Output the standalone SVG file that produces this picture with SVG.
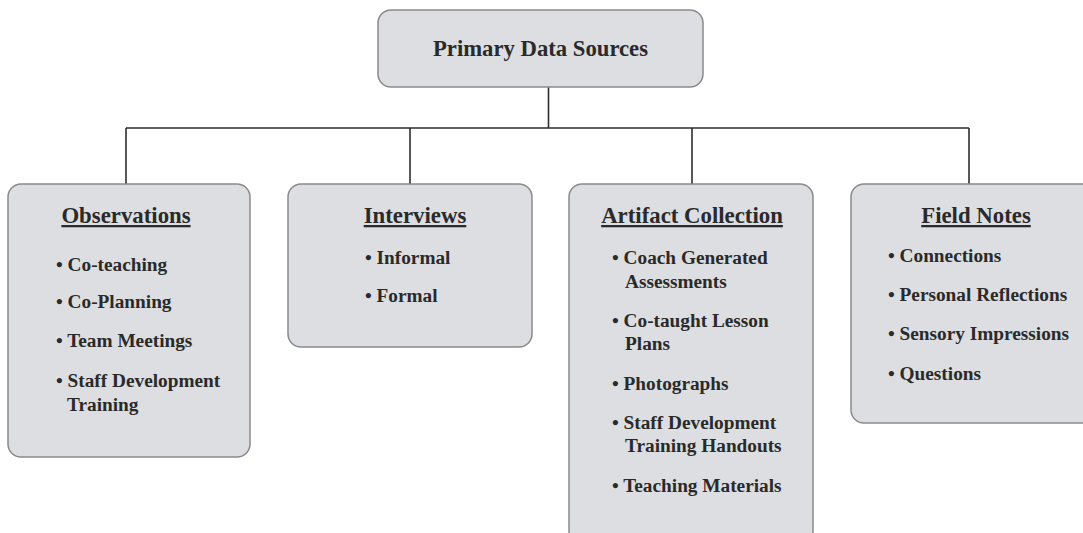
<svg xmlns="http://www.w3.org/2000/svg" width="1083" height="533" viewBox="0 0 1083 533">
<style>
.box{fill:#dddee1;stroke:#8a8a8a;stroke-width:1.5}
.conn{stroke:#2e2e2e;stroke-width:1.6;fill:none}
text{font-family:"Liberation Serif","Times New Roman",serif;font-weight:bold;fill:#2a2a2a}
.title{font-size:22.7px}
.head{font-size:22.8px;text-decoration:underline}
.item{font-size:19.3px}
</style>
<rect width="1083" height="533" fill="#ffffff"/>
<g id="connectors">
<path class="conn" d="M548.5 87 V128 M126 128 H969 M126 128 V184 M410 128 V184 M692 128 V184 M969 128 V184"/>
</g>
<g id="root">
<rect class="box" x="378" y="10" width="325" height="77" rx="13"/>
<text class="title" x="540.5" y="56" text-anchor="middle">Primary Data Sources</text>
</g>
<g id="observations">
<rect class="box" x="8" y="184" width="242" height="273" rx="13"/>
<text class="head" x="126" y="223" text-anchor="middle">Observations</text>
<text class="item" x="56" y="271">• Co-teaching</text>
<text class="item" x="56" y="308">• Co-Planning</text>
<text class="item" x="56" y="347">• Team Meetings</text>
<text class="item" x="56" y="387">• Staff Development</text>
<text class="item" x="67" y="411">Training</text>
</g>
<g id="interviews">
<rect class="box" x="288" y="184" width="244" height="163" rx="13"/>
<text class="head" x="415" y="223" text-anchor="middle">Interviews</text>
<text class="item" x="365" y="264">• Informal</text>
<text class="item" x="365" y="302">• Formal</text>
</g>
<g id="artifact">
<rect class="box" x="569" y="184" width="244" height="360" rx="13"/>
<text class="head" x="692" y="223" text-anchor="middle">Artifact Collection</text>
<text class="item" x="612" y="264">• Coach Generated</text>
<text class="item" x="625" y="288">Assessments</text>
<text class="item" x="612" y="327">• Co-taught Lesson</text>
<text class="item" x="625" y="350">Plans</text>
<text class="item" x="612" y="390">• Photographs</text>
<text class="item" x="612" y="429">• Staff Development</text>
<text class="item" x="625" y="452">Training Handouts</text>
<text class="item" x="612" y="492">• Teaching Materials</text>
</g>
<g id="fieldnotes">
<rect class="box" x="851" y="184" width="244" height="239" rx="13"/>
<text class="head" x="976" y="223" text-anchor="middle">Field Notes</text>
<text class="item" x="888" y="262">• Connections</text>
<text class="item" x="888" y="301">• Personal Reflections</text>
<text class="item" x="888" y="340">• Sensory Impressions</text>
<text class="item" x="888" y="380">• Questions</text>
</g>
</svg>
